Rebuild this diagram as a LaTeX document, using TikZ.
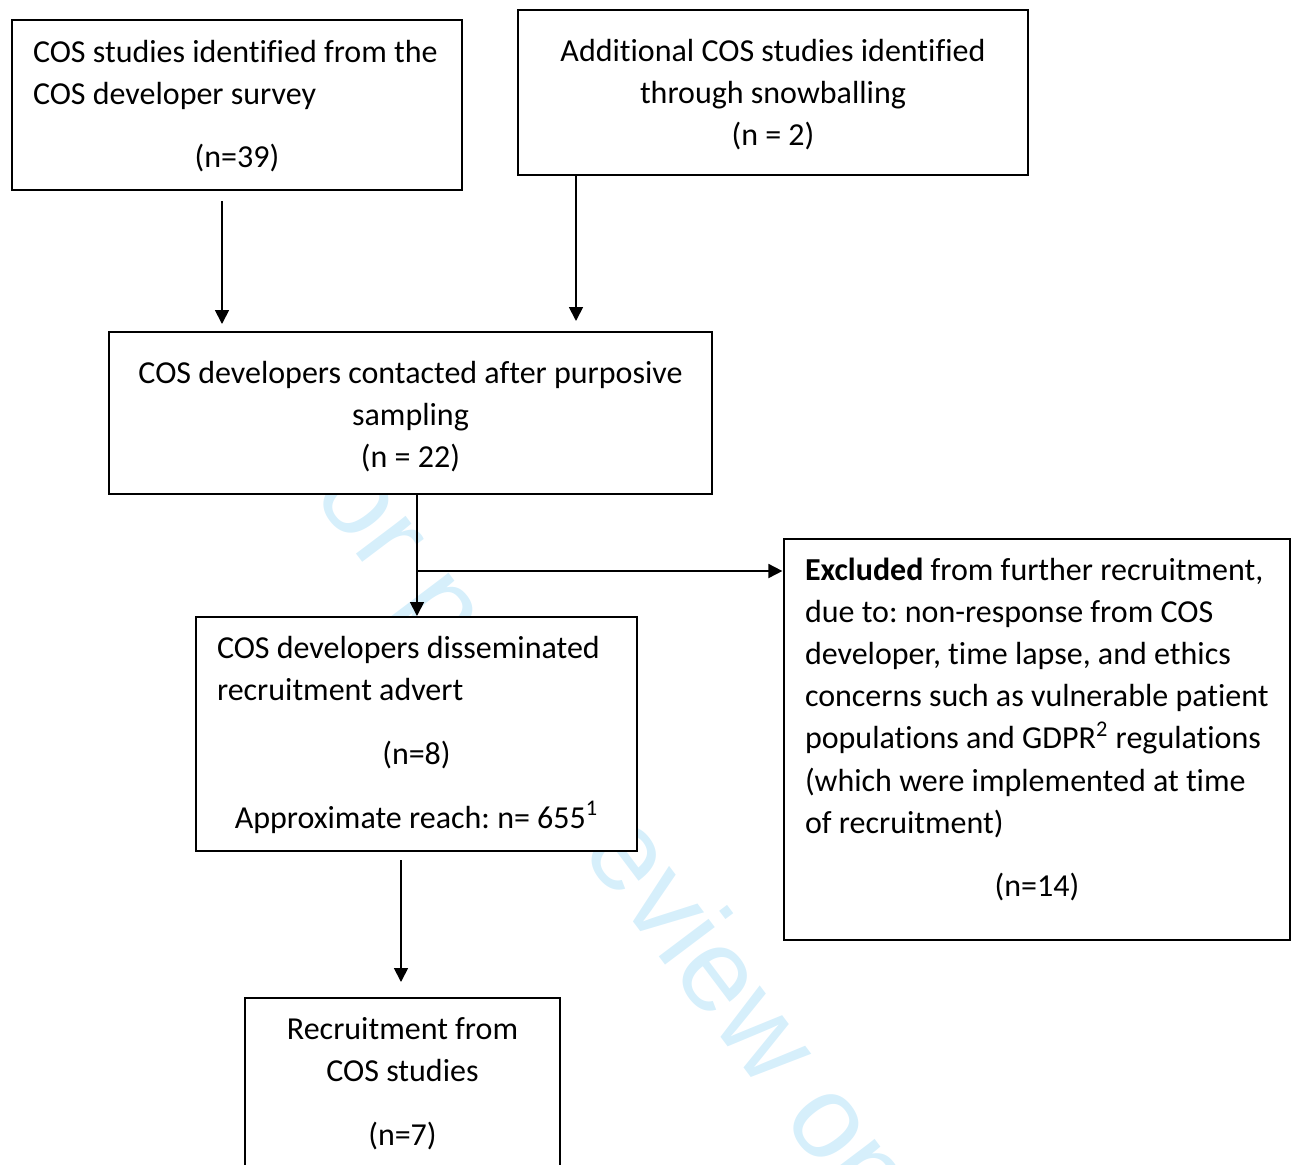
\documentclass[tikz,border=0pt]{standalone}
\usepackage{fontspec}
\setmainfont{Carlito}[Ligatures=CommonOff]
\newfontfamily\wmfont{Liberation Sans}
\usetikzlibrary{arrows.meta}
\definecolor{wmblue}{RGB}{214,239,251}
\frenchspacing
\newcommand{\boxtxt}[4]{\begin{minipage}[t][#2][t]{#1}\fontsize{16pt}{21.1pt}\selectfont\setlength{\parskip}{0pt}\setlength{\parindent}{0pt}\vspace*{#3}#4\end{minipage}}
\begin{document}
\begin{tikzpicture}[x=0.5pt,y=-0.5pt,
  flowbox/.style={draw, line width=1.3pt, fill=white, inner sep=0pt, outer sep=0pt, anchor=north west},
  arr/.style={-{Triangle[length=7pt,width=7pt]}, line width=0.9pt},
  wm/.style={text=wmblue, font=\wmfont\fontsize{59pt}{70pt}\selectfont, inner sep=0pt}]
\useasboundingbox (0,0) rectangle (1292,1164);
% watermark
\node[wm, rotate=-53, anchor=base west] (wm) at (268,437) {For peer review only};
% boxes
\node[flowbox] (b1) at (12,20) {\boxtxt{225pt}{85pt}{6.23pt}{\raggedright\leftskip=10.5pt \strut COS studies identified from the\\COS developer survey\par\vspace{10.4pt}\centering (n=39)\par}};
\node[flowbox] (b2) at (518,10) {\boxtxt{255pt}{82.5pt}{10.73pt}{\centering\strut Additional COS studies identified\\through snowballing\\(n = 2)\par}};
\node[flowbox] (b3) at (109,332) {\boxtxt{301.5pt}{81pt}{10.73pt}{\centering\strut COS developers contacted after purposive\\sampling\\(n = 22)\par}};
\node[flowbox] (b4) at (196,617) {\boxtxt{220.5pt}{117pt}{5.73pt}{\raggedright\leftskip=10.5pt \strut COS developers disseminated\\recruitment advert\par\vspace{10.9pt}\centering (n=8)\par\vspace{10.9pt}Approximate reach: n= 655\textsuperscript{1}\par}};
\node[flowbox] (b5) at (784,539) {\boxtxt{253pt}{200.5pt}{5.73pt}{\raggedright\leftskip=10.5pt \strut\textbf{Excluded} from further recruitment,\\due to: non-response from COS\\developer, time lapse, and ethics\\concerns such as vulnerable patient\\populations and GDPR\textsuperscript{2} regulations\\(which were implemented at time\\of recruitment)\par\vspace{10.4pt}\centering (n=14)\par}};
\node[flowbox] (b6) at (245,998) {\boxtxt{157.5pt}{101pt}{5.73pt}{\centering\strut Recruitment from\\COS studies\par\vspace{10.9pt}(n=7)\par}};
% connector helpers
\coordinate (xa) at (222,0);
\coordinate (xb) at (576,0);
\coordinate (xc) at (417,0);
\coordinate (xe) at (401,0);
\coordinate (jn) at (417,571);
% connectors
\draw[arr, shorten <=5.5pt, shorten >=4pt] (b1.south -| xa) -- (b3.north -| xa);
\draw[arr, shorten >=5.5pt] (b2.south -| xb) -- (b3.north -| xb);
\draw[arr, shorten >=0.5pt] (b3.south -| xc) -- (b4.north -| xc);
\draw[arr, shorten >=0.8pt] (jn) -- (jn -| b5.west);
\draw[arr, shorten <=4.5pt, shorten >=8pt] (b4.south -| xe) -- (b6.north -| xe);
\end{tikzpicture}
\end{document}
